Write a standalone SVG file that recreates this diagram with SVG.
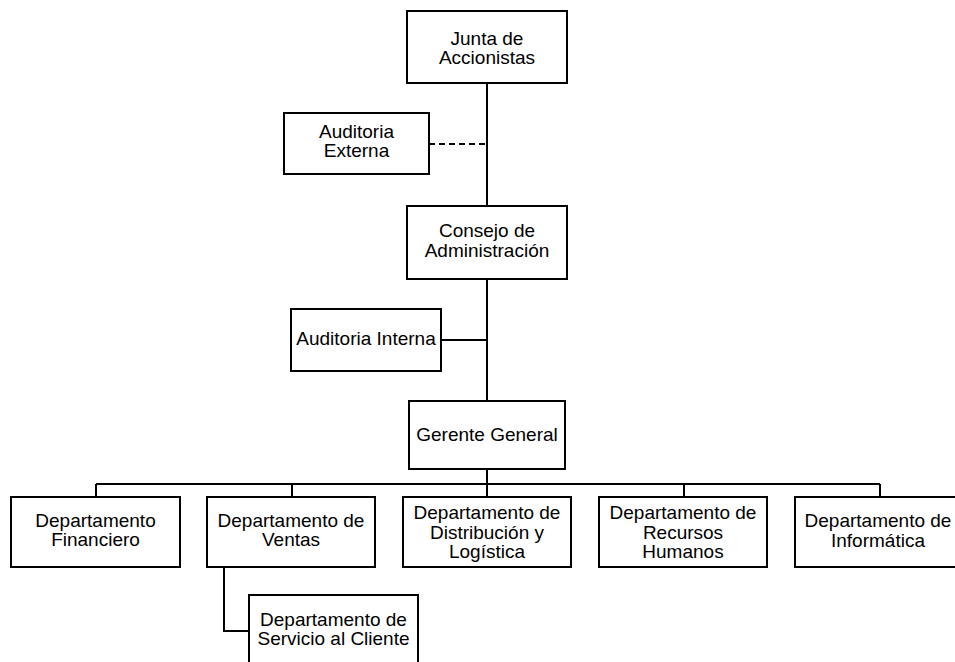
<svg xmlns="http://www.w3.org/2000/svg" width="955" height="662" viewBox="0 0 955 662">
<style>
.box{fill:#fff;stroke:#000;stroke-width:2}
.t{font-family:"Liberation Sans",Arial,sans-serif;font-size:19px;fill:#000;text-anchor:middle}
.c{fill:none;stroke:#000;stroke-width:2}
.d{fill:none;stroke:#000;stroke-width:2;stroke-dasharray:6,4}
</style>
<rect width="955" height="662" fill="#fff"/>
<g id="connectors">
<path class="c" d="M487 83V206M487 279V401M441 340H487M487 469V484M96 484H880M96 484V497M292 484V497M487 484V497M684 484V497M880 484V497M224 567V631H249"/>
<path class="d" d="M429 144H487"/>
</g>
<g id="junta"><rect class="box" x="407" y="11" width="160" height="72"/><text class="t" x="487" y="45">Junta de</text><text class="t" x="487" y="64">Accionistas</text></g>
<g id="auditoria-externa"><rect class="box" x="284" y="113" width="145" height="61"/><text class="t" x="356.5" y="138">Auditoria</text><text class="t" x="356.5" y="157">Externa</text></g>
<g id="consejo"><rect class="box" x="407" y="206" width="160" height="73"/><text class="t" x="487" y="237">Consejo de</text><text class="t" x="487" y="257">Administración</text></g>
<g id="auditoria-interna"><rect class="box" x="291" y="309" width="150" height="62"/><text class="t" x="366" y="345">Auditoria Interna</text></g>
<g id="gerente"><rect class="box" x="409" y="401" width="156" height="68"/><text class="t" x="487" y="441">Gerente General</text></g>
<g id="financiero"><rect class="box" x="11" y="497" width="169" height="70"/><text class="t" x="95.5" y="527">Departamento</text><text class="t" x="95.5" y="546">Financiero</text></g>
<g id="ventas"><rect class="box" x="207" y="497" width="168" height="70"/><text class="t" x="291" y="527">Departamento de</text><text class="t" x="291" y="546">Ventas</text></g>
<g id="distribucion"><rect class="box" x="403" y="497" width="168" height="70"/><text class="t" x="487" y="519">Departamento de</text><text class="t" x="487" y="538.5">Distribución y</text><text class="t" x="487" y="558">Logística</text></g>
<g id="recursos"><rect class="box" x="599" y="497" width="168" height="70"/><text class="t" x="683" y="519">Departamento de</text><text class="t" x="683" y="538.5">Recursos</text><text class="t" x="683" y="558">Humanos</text></g>
<g id="informatica"><rect class="box" x="795" y="497" width="170" height="70"/><text class="t" x="878" y="527">Departamento de</text><text class="t" x="878" y="547">Informática</text></g>
<g id="servicio"><rect class="box" x="249" y="595" width="169" height="72"/><text class="t" x="333.5" y="626">Departamento de</text><text class="t" x="333.5" y="645">Servicio al Cliente</text></g>
</svg>
